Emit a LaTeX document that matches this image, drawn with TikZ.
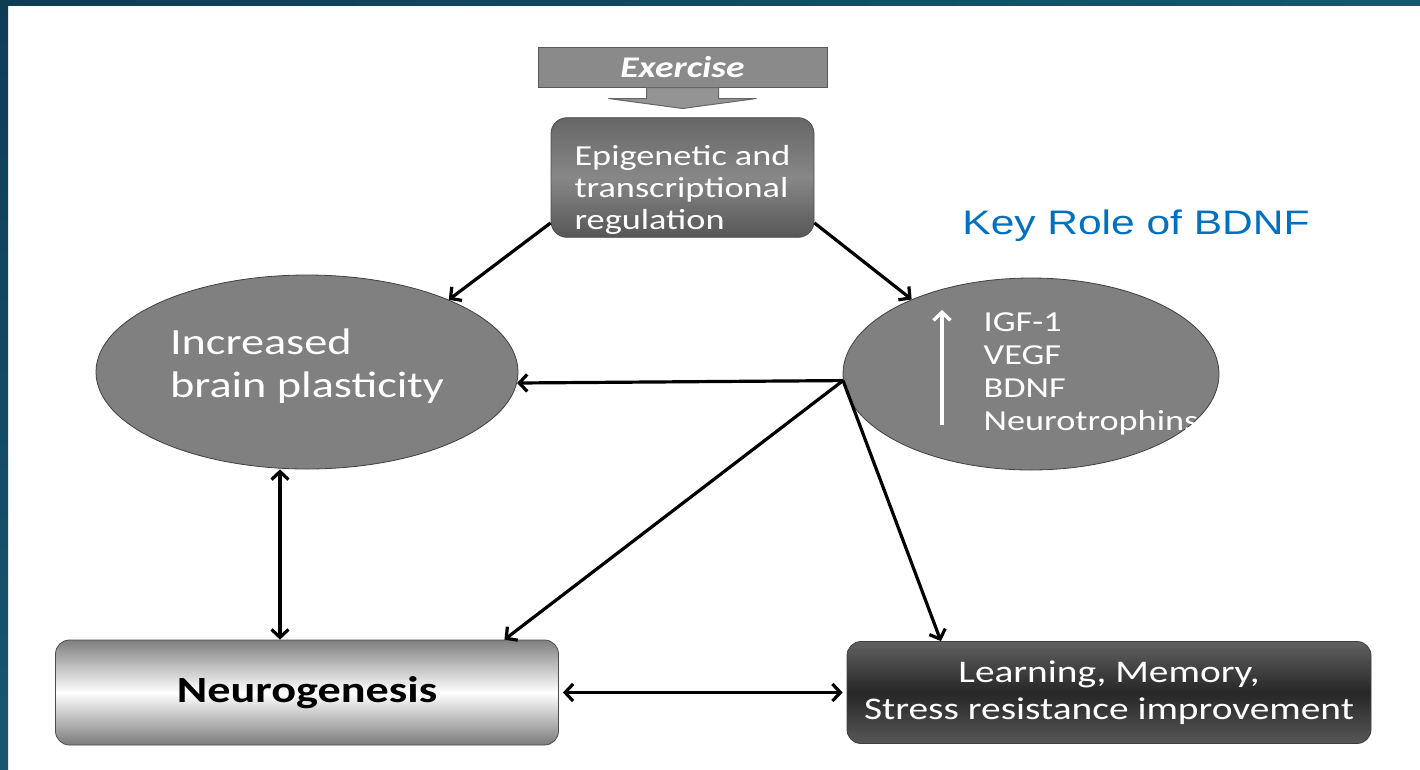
\documentclass[tikz,border=0pt]{standalone}
\usepackage{fontspec}
\setmainfont{Carlito}[FakeStretch=1.25]
\newfontfamily\titlefont{Liberation Sans}[FakeStretch=1.25]
\usetikzlibrary{positioning,shapes.geometric,arrows.meta}
\definecolor{frameteal}{HTML}{0F3C55}
\definecolor{frametealB}{HTML}{185670}
\definecolor{keyblue}{HTML}{0070C0}
\definecolor{ovalgray}{HTML}{808080}

\begin{document}
\begin{tikzpicture}[x = 1pt, y = 1pt,
                    -{Straight Barb[length = 8pt, width = 17pt]},
                    auto, on grid, line width = 3.2pt,
                    banner/.style  = {rectangle,
                                      fill = black!46,
                                      draw = black!65,
                                      line width = 1pt,
                                      text = white,
                                      minimum width = 289pt,
                                      minimum height = 40pt,
                                      font = \fontsize{30}{34}\selectfont\bfseries\itshape},
                    epibox/.style  = {rectangle, rounded corners = 16pt,
                                      top color = black!60,
                                      bottom color = black!66,
                                      middle color = black!47,
                                      draw = black!70,
                                      line width = 0.8pt,
                                      text = white,
                                      align = left,
                                      minimum width = 263pt,
                                      minimum height = 116pt,
                                      font = \fontsize{29}{32}\selectfont},
                    oval/.style    = {ellipse,
                                      fill = ovalgray,
                                      draw = black!75,
                                      line width = 0.8pt,
                                      text = white,
                                      align = left,
                                      inner sep = 0pt,
                                      font = \fontsize{37}{43}\selectfont},
                    factors/.style = {text = white,
                                      align = left,
                                      font = \fontsize{29}{33}\selectfont},
                    neurobox/.style = {rectangle, rounded corners = 14pt,
                                      top color = black!50,
                                      bottom color = black!52,
                                      middle color = white,
                                      draw = black!70,
                                      line width = 0.8pt,
                                      text = black,
                                      minimum width = 503pt,
                                      minimum height = 105pt,
                                      font = \fontsize{37}{43}\selectfont\bfseries},
                    learnbox/.style = {rectangle, rounded corners = 14pt,
                                      top color = black!62,
                                      bottom color = black!66,
                                      middle color = black!85,
                                      draw = black!75,
                                      line width = 0.8pt,
                                      text = white,
                                      align = center,
                                      minimum width = 524pt,
                                      minimum height = 102pt,
                                      font = \fontsize{31.5}{37}\selectfont},
                    keytitle/.style = {text = keyblue,
                                      font = \titlefont\fontsize{34}{40}\selectfont}]

% slide frame
\useasboundingbox (0,0) rectangle (1420,-769);
\shade[left color = frameteal, right color = frametealB] (0,0) rectangle (1420,-5);
\shade[top color = frameteal, bottom color = frametealB] (0,0) rectangle (8,-769);

\node[banner] (ex) at (682.5,-67) {Exercise};
\node[epibox] (epi) [below = 110.5pt of ex] {\rule{0pt}{44pt}Epigenetic and\\transcriptional\\regulation};
\node[oval, minimum width = 422pt, minimum height = 194pt] (ellL) [below left = 194.5pt and 375.5pt of epi] {Increased\\brain plasticity\rule[-18pt]{0pt}{1pt}};
\node[oval, minimum width = 376pt, minimum height = 192pt] (ellR) [below right = 196.5pt and 348.5pt of epi] {};
\node[factors] (fac) [right = 60pt of ellR] {IGF-1\\VEGF\\BDNF\\Neurotrophins};
\node[neurobox] (neuro) [below = 320.5pt of ellL] {Neurogenesis};
\node[learnbox] (learn) [right = 802pt of neuro] {Learning, Memory,\\Stress resistance improvement};
\node[keytitle] (key) [above right = 148pt and 105pt of ellR] {Key Role of BDNF};

% arrow under the banner
\draw[fill = black!42, draw = black!60, line width = 1pt]
  ([xshift = -36pt]ex.south) -- ++(0,-11) -- ++(-38,0) -- ([yshift = -21pt]ex.south)
  -- ++(74,10) -- ++(-38,0) -- ++(0,11) -- cycle;

% white arrow in the oval
\draw[white, line width = 3.4pt] ([xshift = -89pt, yshift = -51pt]ellR.center) -- ([xshift = -89pt, yshift = 64pt]ellR.center);

\coordinate (src) at (ellR.182);

\path (epi.199) edge (ellL.27);
\path (epi.-19) edge (ellR.148);
\path (src) edge (ellL.-3);
\path (src) edge (neuro.15);
\path (src) edge (learn.163);
\path[{Straight Barb[length = 8pt, width = 17pt]}-{Straight Barb[length = 8pt, width = 17pt]}]
  ([xshift = -27pt]ellL.south) edge ([xshift = -27pt]neuro.north);
\path[{Straight Barb[length = 8pt, width = 17pt]}-{Straight Barb[length = 8pt, width = 17pt]}]
  (neuro.east) edge[shorten <= 4pt, shorten >= 4pt] (learn.west);

\end{tikzpicture}
\end{document}
